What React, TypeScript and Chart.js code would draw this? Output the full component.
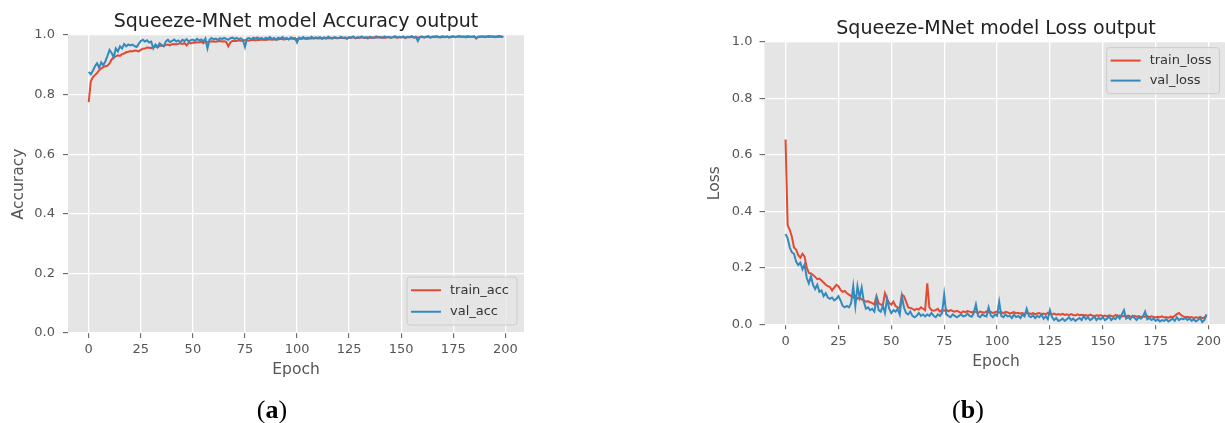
import React, { useEffect, useRef } from 'react';
import { Chart, registerables } from 'chart.js';

Chart.register(...registerables);

// ---------------- data ----------------
const trainAcc = [
  0.775, 0.845, 0.858, 0.866, 0.872, 0.882, 0.888, 0.892, 0.895, 0.897,
  0.905, 0.918, 0.925, 0.928, 0.932, 0.930, 0.936, 0.938, 0.942, 0.944,
  0.946, 0.945, 0.948, 0.947, 0.945, 0.950, 0.954, 0.955, 0.958, 0.957,
  0.956, 0.960, 0.962, 0.958, 0.963, 0.965, 0.964, 0.966, 0.968, 0.965,
  0.969, 0.970, 0.968, 0.971, 0.972, 0.970, 0.973, 0.965, 0.974, 0.972,
  0.975, 0.974, 0.976, 0.975, 0.977, 0.972, 0.978, 0.976, 0.977, 0.979,
  0.978, 0.977, 0.979, 0.980, 0.978, 0.979, 0.977, 0.962, 0.975, 0.980,
  0.981, 0.980, 0.982, 0.981, 0.980, 0.983, 0.982, 0.981, 0.983, 0.984,
  0.982, 0.984, 0.983, 0.985, 0.984, 0.983, 0.985, 0.986, 0.984, 0.985,
  0.986, 0.985, 0.987, 0.986, 0.985, 0.987, 0.986, 0.988, 0.987, 0.986,
  0.987, 0.988, 0.987, 0.989, 0.988, 0.987, 0.989, 0.988, 0.990, 0.989,
  0.988, 0.989, 0.990, 0.989, 0.988, 0.990, 0.989, 0.991, 0.990, 0.989,
  0.990, 0.991, 0.990, 0.989, 0.991, 0.990, 0.991, 0.992, 0.990, 0.991,
  0.990, 0.992, 0.991, 0.990, 0.992, 0.991, 0.990, 0.992, 0.991, 0.993,
  0.991, 0.992, 0.990, 0.992, 0.993, 0.991, 0.992, 0.993, 0.991, 0.992,
  0.993, 0.992, 0.991, 0.993, 0.992, 0.994, 0.992, 0.993, 0.991, 0.993,
  0.994, 0.992, 0.993, 0.994, 0.992, 0.993, 0.995, 0.993, 0.994, 0.992,
  0.994, 0.993, 0.995, 0.993, 0.994, 0.995, 0.993, 0.994, 0.995, 0.993,
  0.994, 0.995, 0.993, 0.994, 0.995, 0.994, 0.990, 0.993, 0.995, 0.994,
  0.995, 0.994, 0.993, 0.995, 0.994, 0.995, 0.993, 0.994, 0.995, 0.994,
];

const valAcc = [
  0.876, 0.868, 0.880, 0.895, 0.905, 0.890, 0.908, 0.898, 0.912, 0.930,
  0.950, 0.940, 0.925, 0.955, 0.945, 0.962, 0.955, 0.970, 0.962, 0.968,
  0.965, 0.968, 0.963, 0.960, 0.970, 0.980, 0.984, 0.978, 0.982, 0.975,
  0.978, 0.955, 0.968, 0.960, 0.972, 0.966, 0.962, 0.978, 0.984, 0.976,
  0.980, 0.985, 0.978, 0.982, 0.976, 0.984, 0.980, 0.986, 0.978, 0.983,
  0.985, 0.980, 0.987, 0.982, 0.985, 0.978, 0.988, 0.955, 0.984, 0.990,
  0.985, 0.988, 0.983, 0.989, 0.986, 0.990, 0.987, 0.984, 0.989, 0.991,
  0.987, 0.990, 0.986, 0.989, 0.984, 0.960, 0.988, 0.990, 0.985, 0.991,
  0.988, 0.992, 0.987, 0.990, 0.985, 0.991, 0.988, 0.993, 0.986, 0.990,
  0.984, 0.991, 0.988, 0.993, 0.987, 0.990, 0.985, 0.992, 0.989, 0.990,
  0.975, 0.991, 0.988, 0.993, 0.987, 0.991, 0.989, 0.994, 0.988, 0.992,
  0.990, 0.993, 0.987, 0.992, 0.989, 0.994, 0.990, 0.988, 0.993, 0.991,
  0.989, 0.994, 0.990, 0.992, 0.987, 0.993, 0.991, 0.995, 0.989, 0.993,
  0.991, 0.995, 0.990, 0.993, 0.988, 0.994, 0.992, 0.990, 0.995, 0.992,
  0.993, 0.990, 0.995, 0.992, 0.994, 0.990, 0.993, 0.996, 0.991, 0.994,
  0.992, 0.995, 0.990, 0.994, 0.993, 0.996, 0.991, 0.994, 0.980, 0.993,
  0.995, 0.992, 0.994, 0.996, 0.991, 0.995, 0.993, 0.996, 0.992, 0.994,
  0.996, 0.993, 0.995, 0.991, 0.994, 0.996, 0.993, 0.995, 0.997, 0.994,
  0.995, 0.992, 0.996, 0.994, 0.993, 0.996, 0.988, 0.995, 0.994, 0.996,
  0.993, 0.995, 0.997, 0.994, 0.996, 0.993, 0.995, 0.997, 0.994, 0.993,
];

const trainLoss = [
  0.655, 0.350, 0.335, 0.310, 0.272, 0.265, 0.245, 0.236, 0.250, 0.240,
  0.202, 0.182, 0.180, 0.175, 0.168, 0.160, 0.162, 0.155, 0.148, 0.140,
  0.135, 0.132, 0.120, 0.130, 0.140, 0.135, 0.122, 0.115, 0.118, 0.110,
  0.105, 0.100, 0.095, 0.100, 0.090, 0.095, 0.088, 0.085, 0.080, 0.082,
  0.078, 0.075, 0.070, 0.100, 0.075, 0.070, 0.068, 0.110, 0.090, 0.075,
  0.070, 0.080, 0.065, 0.060, 0.058, 0.105, 0.100, 0.080, 0.060, 0.058,
  0.055, 0.050, 0.055, 0.052, 0.060, 0.055, 0.050, 0.145, 0.060, 0.050,
  0.048, 0.050, 0.055, 0.045, 0.050, 0.048, 0.052, 0.046, 0.050, 0.047,
  0.045, 0.048, 0.044, 0.040, 0.046, 0.043, 0.047, 0.045, 0.042, 0.046,
  0.044, 0.040, 0.045, 0.043, 0.041, 0.046, 0.042, 0.044, 0.040, 0.043,
  0.045, 0.041, 0.043, 0.039, 0.044, 0.042, 0.038, 0.041, 0.043, 0.039,
  0.041, 0.038, 0.040, 0.036, 0.042, 0.039, 0.037, 0.040, 0.036, 0.038,
  0.040, 0.036, 0.038, 0.035, 0.041, 0.037, 0.035, 0.038, 0.034, 0.036,
  0.034, 0.037, 0.033, 0.035, 0.032, 0.036, 0.033, 0.031, 0.035, 0.032,
  0.034, 0.031, 0.033, 0.030, 0.034, 0.031, 0.029, 0.032, 0.030, 0.033,
  0.029, 0.031, 0.028, 0.032, 0.030, 0.027, 0.033, 0.029, 0.031, 0.028,
  0.030, 0.027, 0.031, 0.028, 0.026, 0.030, 0.027, 0.029, 0.025, 0.028,
  0.027, 0.030, 0.025, 0.028, 0.026, 0.024, 0.027, 0.025, 0.028, 0.024,
  0.026, 0.023, 0.027, 0.025, 0.030, 0.036, 0.040, 0.033, 0.028, 0.025,
  0.027, 0.024, 0.026, 0.022, 0.025, 0.023, 0.026, 0.022, 0.024, 0.030,
];

const valLoss = [
  0.320, 0.305, 0.272, 0.255, 0.250, 0.222, 0.210, 0.218, 0.195, 0.212,
  0.165, 0.145, 0.170, 0.140, 0.125, 0.140, 0.115, 0.120, 0.100, 0.110,
  0.095, 0.090, 0.095, 0.085, 0.090, 0.100, 0.085, 0.065, 0.060, 0.065,
  0.060, 0.075, 0.135, 0.065, 0.135, 0.095, 0.130, 0.080, 0.055, 0.060,
  0.050, 0.055, 0.045, 0.090, 0.050, 0.045, 0.065, 0.040, 0.090, 0.055,
  0.040, 0.050, 0.045, 0.055, 0.035, 0.100, 0.060, 0.040, 0.035, 0.045,
  0.030, 0.025, 0.030, 0.040, 0.030, 0.035, 0.028, 0.035, 0.030, 0.040,
  0.030, 0.025, 0.035, 0.030, 0.040, 0.105, 0.035, 0.030, 0.025, 0.035,
  0.030, 0.025, 0.030, 0.035, 0.028, 0.030, 0.038, 0.030, 0.027, 0.040,
  0.070, 0.030, 0.025, 0.035, 0.030, 0.028, 0.060, 0.032, 0.025, 0.035,
  0.030, 0.080, 0.030, 0.025, 0.035, 0.028, 0.030, 0.022, 0.035, 0.025,
  0.030, 0.022, 0.035, 0.028, 0.055, 0.030, 0.025, 0.032, 0.022, 0.030,
  0.025, 0.035, 0.020, 0.028, 0.018, 0.050, 0.025, 0.015, 0.022, 0.012,
  0.015, 0.020, 0.012, 0.018, 0.025, 0.015, 0.020, 0.012, 0.018, 0.022,
  0.015, 0.030, 0.018, 0.025, 0.015, 0.020, 0.028, 0.015, 0.022, 0.018,
  0.025, 0.015, 0.020, 0.028, 0.015, 0.022, 0.018, 0.030, 0.020, 0.035,
  0.050, 0.020, 0.025, 0.018, 0.030, 0.022, 0.015, 0.025, 0.020, 0.028,
  0.045, 0.018, 0.022, 0.015, 0.020, 0.012, 0.018, 0.010, 0.015, 0.012,
  0.018, 0.010, 0.015, 0.020, 0.012, 0.025, 0.015, 0.020, 0.018, 0.022,
  0.015, 0.020, 0.012, 0.018, 0.010, 0.015, 0.022, 0.008, 0.015, 0.035,
];

const xTicks = [0, 25, 50, 75, 100, 125, 150, 175, 200];
const yTicks = [0, 0.2, 0.4, 0.6, 0.8, 1.0];
const accNames = ['train_acc', 'val_acc'];
const lossNames = ['train_loss', 'val_loss'];
const accTitle = 'Squeeze-MNet model Accuracy output';
const lossTitle = 'Squeeze-MNet model Loss output';
const xLabel = 'Epoch';

// ---------------- style ----------------
const FONT = '"DejaVu Sans", sans-serif';
const RED = '#E24A33';
const BLUE = '#348ABD';
const GRAY = '#555555';

Chart.defaults.font.family = FONT;

const bgPlugin = {
  id: 'plotBg',
  beforeDraw(chart: any) {
    const { ctx, chartArea } = chart;
    ctx.save();
    ctx.fillStyle = '#E5E5E5';
    ctx.fillRect(chartArea.left, chartArea.top, chartArea.right - chartArea.left, chartArea.bottom - chartArea.top);
    ctx.restore();
  },
};

const mplLegend = {
  id: 'mplLegend',
  afterDatasetsDraw(chart: any, _args: any, opts: any) {
    const { ctx, chartArea } = chart;
    const items = chart.data.datasets;
    ctx.save();
    ctx.font = `${opts.fontSize}px ${FONT}`;
    const tw = Math.max(...items.map((d: any) => ctx.measureText(d.label).width));
    const w = opts.padL + opts.lineLen + opts.gap + tw + opts.padR;
    const h = opts.padY * 2 + opts.rowH * items.length;
    const x = chartArea.right - opts.marginX - w;
    const y = opts.loc === 'lower right' ? chartArea.bottom - opts.marginY - h : chartArea.top + opts.marginY;
    const r = 3;
    ctx.beginPath();
    ctx.moveTo(x + r, y);
    ctx.lineTo(x + w - r, y);
    ctx.arcTo(x + w, y, x + w, y + r, r);
    ctx.lineTo(x + w, y + h - r);
    ctx.arcTo(x + w, y + h, x + w - r, y + h, r);
    ctx.lineTo(x + r, y + h);
    ctx.arcTo(x, y + h, x, y + h - r, r);
    ctx.lineTo(x, y + r);
    ctx.arcTo(x, y, x + r, y, r);
    ctx.closePath();
    ctx.fillStyle = 'rgba(229,229,229,0.8)';
    ctx.fill();
    ctx.strokeStyle = '#CCCCCC';
    ctx.lineWidth = 1;
    ctx.stroke();
    items.forEach((d: any, i: number) => {
      const cy = y + opts.padY + opts.rowH * (i + 0.5);
      ctx.beginPath();
      ctx.moveTo(x + opts.padL, cy);
      ctx.lineTo(x + opts.padL + opts.lineLen, cy);
      ctx.strokeStyle = d.borderColor;
      ctx.lineWidth = 2;
      ctx.stroke();
      ctx.fillStyle = '#333333';
      ctx.textBaseline = 'middle';
      ctx.textAlign = 'left';
      ctx.fillText(d.label, x + opts.padL + opts.lineLen + opts.gap, cy);
    });
    ctx.restore();
  },
};

type Layout = {
  yAxisW: number;
  xAxisH: number;
  padRight: number;
  titlePadTop: number;
  titlePadBottom: number;
  yTitlePad: number;
  xTitlePadBottom: number;
  yTickPad: number;
  xTickPad: number;
  legend: any;
};

function makeConfig(title: string, yLabel: string, s1: number[], s2: number[], names: string[], L: Layout): any {
  const epochs = s1.map((_, i) => i);
  const grid = { color: '#FFFFFF', lineWidth: 1.3, tickColor: GRAY, tickLength: 5, tickWidth: 1, drawTicks: true };
  return {
    type: 'line',
    data: {
      labels: epochs,
      datasets: [
        { label: names[0], data: s1, borderColor: RED, backgroundColor: RED, borderWidth: 2, pointRadius: 0, tension: 0, order: 1 },
        { label: names[1], data: s2, borderColor: BLUE, backgroundColor: BLUE, borderWidth: 2, pointRadius: 0, tension: 0, order: 0 },
      ],
    },
    options: {
      responsive: false,
      animation: false,
      devicePixelRatio: 1,
      layout: { padding: { left: 0, right: L.padRight, top: 0, bottom: 0 } },
      plugins: {
        legend: { display: false },
        tooltip: { enabled: false },
        title: {
          display: true,
          text: title,
          fullSize: false,
          color: '#222222',
          font: { size: 19, family: FONT, weight: 'normal', lineHeight: 1.2 },
          padding: { top: L.titlePadTop, bottom: L.titlePadBottom },
        },
        mplLegend: L.legend,
      },
      scales: {
        x: {
          type: 'linear',
          min: -9.95,
          max: 208.95,
          afterBuildTicks: (a: any) => { a.ticks = xTicks.map((v) => ({ value: v })); },
          afterFit: (a: any) => { a.height = L.xAxisH; },
          grid,
          border: { display: false },
          ticks: { color: GRAY, font: { size: 13 }, padding: L.xTickPad, maxRotation: 0, autoSkip: false, callback: (v: any) => String(v) },
          title: { display: true, text: xLabel, color: GRAY, font: { size: 15.5, lineHeight: 1.2 }, padding: { top: 0, bottom: L.xTitlePadBottom } },
        },
        y: {
          type: 'linear',
          min: 0,
          max: 1,
          afterBuildTicks: (a: any) => { a.ticks = yTicks.map((v) => ({ value: v })); },
          afterFit: (a: any) => { a.width = L.yAxisW; },
          grid,
          border: { display: false },
          ticks: { color: GRAY, font: { size: 13 }, padding: L.yTickPad, callback: (v: any) => Number(v).toFixed(1) },
          title: { display: true, text: yLabel, color: GRAY, font: { size: 15.5, lineHeight: 1.2 }, padding: { top: L.yTitlePad, bottom: 0 } },
        },
      },
    },
    plugins: [bgPlugin, mplLegend],
  };
}

const leftLayout: Layout = {
  yAxisW: 68,
  xAxisH: 67,
  padRight: 36,
  titlePadTop: 10.6,
  titlePadBottom: 1.6,
  yTitlePad: 9.6,
  xTitlePadBottom: 20.6,
  yTickPad: 8,
  xTickPad: 3.5,
  legend: { loc: 'lower right', fontSize: 13, padL: 4, lineLen: 30, gap: 9, padR: 8, padY: 2.5, rowH: 21.5, marginX: 7, marginY: 8 },
};

const rightLayout: Layout = {
  yAxisW: 84.5,
  xAxisH: 75.7,
  padRight: 0.5,
  titlePadTop: 17.8,
  titlePadBottom: 1.5,
  yTitlePad: 26.1,
  xTitlePadBottom: 28.6,
  yTickPad: 7,
  xTickPad: 4.5,
  legend: { loc: 'upper right', fontSize: 13, padL: 4, lineLen: 30, gap: 9, padR: 8, padY: 3, rowH: 20, marginX: 8, marginY: 5.5 },
};

function ChartCanvas({ config, left, width, height }: { config: any; left: number; width: number; height: number }) {
  const ref = useRef<HTMLCanvasElement | null>(null);
  useEffect(() => {
    if (!ref.current) return;
    const chart = new Chart(ref.current, config);
    return () => chart.destroy();
  }, [config]);
  return (
    <canvas
      ref={ref}
      width={width}
      height={height}
      style={{ position: 'absolute', left, top: 0, width, height }}
    />
  );
}

const accConfig = makeConfig(accTitle, 'Accuracy', trainAcc, valAcc, accNames, leftLayout);
const lossConfig = makeConfig(lossTitle, 'Loss', trainLoss, valLoss, lossNames, rightLayout);

const captionStyle: React.CSSProperties = {
  position: 'absolute',
  top: 394,
  width: 100,
  textAlign: 'center',
  fontFamily: '"Liberation Serif", "DejaVu Serif", serif',
  fontSize: 26,
  lineHeight: '32px',
  color: '#000',
};

export default function App() {
  return (
    <div style={{ position: 'absolute', left: 0, top: 0, width: 1225, height: 423, overflow: 'hidden', background: '#fff' }}>
      <ChartCanvas config={accConfig} left={0} width={560} height={400} />
      <ChartCanvas config={lossConfig} left={680} width={548} height={400} />
      <div style={{ ...captionStyle, left: 272 - 50 }}>(<b>a</b>)</div>
      <div style={{ ...captionStyle, left: 968 - 50 }}>(<b>b</b>)</div>
    </div>
  );
}
